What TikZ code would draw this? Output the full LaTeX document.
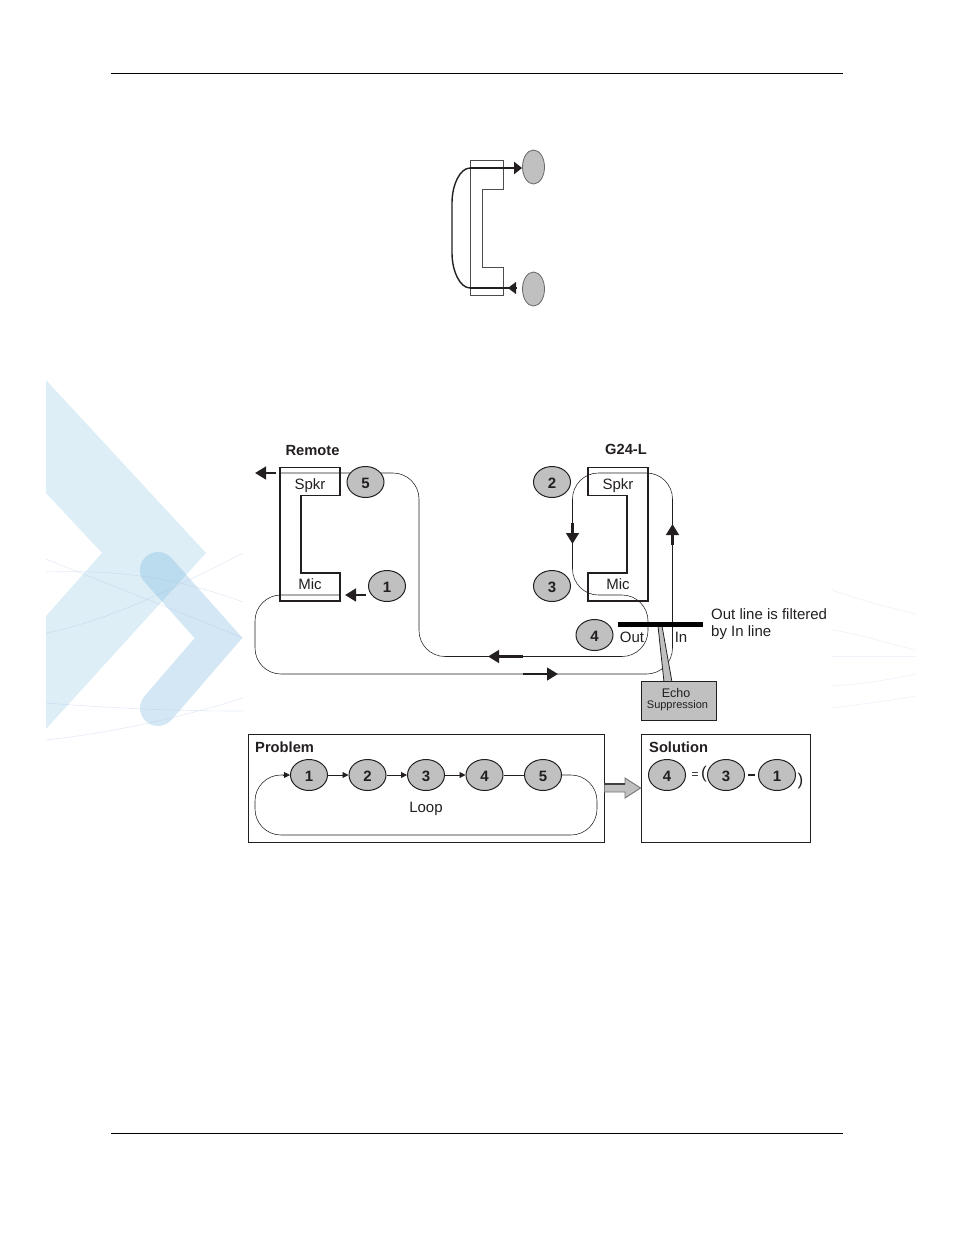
\documentclass[tikz,border=0pt]{standalone}
\usepackage{fontspec}
\setmainfont{Liberation Sans}
\usetikzlibrary{arrows.meta,shapes.geometric,calc}
\definecolor{wmA}{RGB}{221,238,247}
\definecolor{wmB}{RGB}{100,170,216}
\definecolor{wisp}{RGB}{170,190,225}
\definecolor{inkc}{RGB}{35,31,32}
\definecolor{nodegray}{RGB}{192,192,192}
\tikzset{
  num/.style={ellipse,draw=inkc,line width=1pt,fill=nodegray,minimum width=37,minimum height=31,inner sep=0pt,font=\fontsize{15}{17}\selectfont\bfseries,text=inkc,text height=13pt,text depth=0pt},
  topnum/.style={ellipse,draw=black!60,line width=.8pt,fill=nodegray,minimum width=22,minimum height=34,inner sep=0pt},
  lab/.style={inner sep=0pt,font=\fontsize{15}{17}\selectfont,text=inkc},
  head/.style={inner sep=0pt,font=\fontsize{14.7}{17}\selectfont\bfseries,text=inkc},
  phone/.style={draw=inkc,line width=1.05pt,line join=miter},
  wire/.style={draw=inkc,line width=.55pt},
  flow/.style={draw=inkc,line width=2.8pt,-{Triangle[length=11pt,width=12.5pt]}},
  small/.style={draw=inkc,line width=.8pt,-{Triangle[length=6pt,width=6pt]}},
  panel/.style={draw=inkc,line width=.9pt},
  wispy/.style={draw=wisp,line width=.6pt,opacity=.32},
  wispr/.style={draw=wisp,line width=.7pt,opacity=.2},
  rule/.style={draw=black,line width=.8pt}
}
\begin{document}
\begin{tikzpicture}[x=1pt,y=-1pt]
\useasboundingbox (0,0) rectangle (954,1235);
% watermark
\fill[wmA] (46,380) -- (206,553) -- (46,729) -- (46,616) -- (102,553) -- (46,493) -- cycle;
\draw[wmB,opacity=.28,line width=36pt,line cap=round,line join=miter] (158,570) -- (218.5,638) -- (158,708);
\draw[wispy] (46,559) .. controls (110,585) and (180,612) .. (243,638);
\draw[wispy] (46,572) .. controls (110,570) and (170,575) .. (243,602);
\draw[wispy] (46,633) .. controls (110,620) and (170,590) .. (243,553);
\draw[wispy] (46,703) .. controls (110,708) and (170,711) .. (243,711);
\draw[wispy] (46,740) .. controls (110,733) and (180,718) .. (243,698);
\draw[wispr] (832,590) .. controls (860,600) and (890,608) .. (915,614);
\draw[wispr] (832,630) .. controls (860,634) and (890,644) .. (915,650);
\draw[wispr] (832,656.5) -- (915,656.5);
\draw[wispr] (832,686) .. controls (860,684) and (890,680) .. (915,674);
\draw[wispr] (832,708) .. controls (860,704) and (890,701) .. (915,696);
% page rules
\coordinate (ruleAl) at (111,73); \coordinate (ruleAr) at (843,73);
\coordinate (ruleBl) at (111,1133); \coordinate (ruleBr) at (843,1133);
\draw[rule] (ruleAl) -- (ruleAr);
\draw[rule] (ruleBl) -- (ruleBr);
% top handset
\draw[draw=black!70,line width=1pt] (470,160) -- (503,160) -- (503,189) -- (482,189) -- (482,267) -- (503,267) -- (503,295) -- (470,295) -- cycle;
\node[topnum] (earA) at (533.5,167) {};
\node[topnum] (earB) at (533.5,289) {};
\coordinate (hsA) at (470,168); \coordinate (hsB) at (470,288);
\draw[inkc,line width=1.4pt] (hsA) .. controls (460,168) and (452,185) .. (452,203) -- (452,253) .. controls (452,271) and (460,288) .. (hsB);
\draw[flow,line width=2.8pt,-{Triangle[length=8pt,width=12pt]}] (hsA) -- (earA.west |- hsA);
\draw[inkc,line width=2.8pt] (hsB) -- (517,288);
\coordinate (hsTip) at (508,288); \coordinate (hsTail) at (516,288);
\draw[inkc,-{Triangle[length=8pt,width=12pt]}] (hsTail) -- (hsTip);
% remote handset
\draw[phone] (280,467.5) -- (340,467.5) -- (340,495.7) -- (301,495.7) -- (301,573) -- (340,573) -- (340,601) -- (280,601) -- cycle;
% G24-L handset
\draw[phone] (648,467.5) -- (588,467.5) -- (588,495.7) -- (627,495.7) -- (627,573) -- (588,573) -- (588,601) -- (648,601) -- cycle;
\node[lab] (rspkr) at (310,485.5) {Spkr};
\node[lab] (rmic) at (310,584) {Mic};
\node[lab] (gspkr) at (618,485.5) {Spkr};
\node[lab] (gmic) at (618,584) {Mic};
\node[head] (remote) at (312.5,451) {Remote};
\node[head] (gtwo) at (626,449) {G24-L};
% wires
\coordinate (wA) at (280,473);
\coordinate (wB) at (340,595);
\draw[wire,rounded corners=26pt] (wA) -- (419,473) -- (419,656.5) -- (648,656.5) -- (648,595) -- (572.5,595) -- (572.5,473) -- (672.5,473) -- (672.5,674) -- (255,674) -- (255,595) -- (wB);
% nodes
\node[num] (r5) at (365.5,482) {5};
\node[num] (r1) at (387,586) {1};
\node[num] (g2) at (552,482) {2};
\node[num] (g3) at (552,586) {3};
\node[num] (g4) at (594.5,635) {4};
% flow arrows
\coordinate (fA) at (276,473); \coordinate (fAe) at (255,473);
\draw[flow] (fA) -- (fAe);
\coordinate (fB) at (366,595); \coordinate (fBe) at (345,595);
\draw[flow] (fB) -- (fBe);
\coordinate (fC) at (572.5,523); \coordinate (fCe) at (572.5,544);
\draw[flow] (fC) -- (fCe);
\coordinate (fD) at (672.5,545); \coordinate (fDe) at (672.5,524);
\draw[flow] (fD) -- (fDe);
\coordinate (fE) at (523,656.5); \coordinate (fEe) at (488,656.5);
\draw[flow] (fE) -- (fEe);
\coordinate (fF) at (523,674); \coordinate (fFe) at (558,674);
\draw[flow] (fF) -- (fFe);
% filter
\node[lab] (outl) at (632,637) {Out};
\node[lab] (inl) at (681,637) {In};
\draw[fill=nodegray,draw=inkc,line width=.8pt] (658,626) -- (664,682) -- (672,682) -- (662,626) -- cycle;
\node[draw=inkc,line width=1pt,fill=nodegray,minimum width=75,minimum height=39,inner sep=0pt] (echo) at (678.5,700.5) {};
\node[inner sep=0pt,font=\fontsize{12.5}{14}\selectfont,text=inkc] (echoA) at (676,693) {Echo};
\node[inner sep=0pt,font=\fontsize{11}{13}\selectfont,text=inkc] (echoB) at (677.5,706) {Suppression};
\coordinate (barA) at (618,624); \coordinate (barB) at (703,624);
\draw[black,line width=5pt] (barA) -- (barB);
\node[lab,anchor=base west] (noteA) at (711,619) {Out line is filtered};
\node[lab,anchor=base west] (noteB) at (711,636) {by In line};
% problem panel
\node[panel,minimum width=356,minimum height=108,inner sep=0pt] (prob) at (426,788) {};
\node[panel,minimum width=169,minimum height=108,inner sep=0pt] (sol) at (725.5,788) {};
\node[head,anchor=base west] (probt) at (255,752) {Problem};
\node[head,anchor=base west] (solt) at (649,752) {Solution};
\node[num] (p1) at (309,775) {1};
\node[num] (p2) at (367.5,775) {2};
\node[num] (p3) at (426,775) {3};
\node[num] (p4) at (484.5,775) {4};
\node[num] (p5) at (543,775) {5};
\draw[small] (p1) -- (p2);
\draw[small] (p2) -- (p3);
\draw[small] (p3) -- (p4);
\draw[inkc,line width=.8pt] (p4) -- (p5);
\coordinate (lpA) at (597,775); \coordinate (lpB) at (597,835);
\coordinate (lpC) at (255,835); \coordinate (lpD) at (255,775);
\draw[wire,rounded corners=26pt] (p5.east) -- (lpA) -- (lpB) -- (lpC) -- (lpD) -- ($(p1.west)+(-6,0)$);
\draw[small] ($(p1.west)+(-7,0)$) -- (p1.west);
\node[lab] (loop) at (426,808.5) {Loop};
% solution contents
\node[num] (s4) at (667,775) {4};
\node[num] (s3) at (726,775) {3};
\node[num] (s1) at (777,775) {1};
\node[inner sep=0pt,font=\fontsize{12}{14}\selectfont,text=inkc] (eq) at (695,775.5) {=};
\node[inner sep=0pt,font=\fontsize{17}{19}\selectfont,text=inkc] (po) at (704,774) {(};
\node[inner sep=0pt,font=\fontsize{17}{19}\selectfont,text=inkc] (pc) at (800.5,781) {)};
\draw[inkc,line width=1.8pt] (s3.east) ++(3,0) -- ++(7,0);
% big arrow
\draw[fill=nodegray,draw=black!55,line width=.9pt] (prob.east |- 0,784) -- (625,784) -- (625,778) -- (sol.west |- 0,788) -- (625,798) -- (625,792) -- (prob.east |- 0,792) -- cycle;
\draw[black!75,line width=1.1pt] (prob.east |- 0,784) -- (625,784);
\end{tikzpicture}
\end{document}
